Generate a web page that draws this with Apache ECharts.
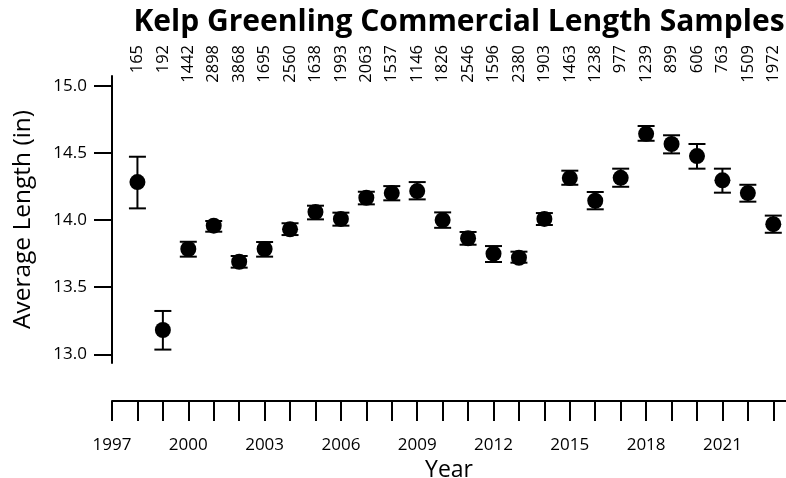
<!DOCTYPE html>
<html>
<head>
<meta charset="utf-8">
<script src="https://cdn.jsdelivr.net/npm/echarts@6/dist/echarts.min.js"></script>
<style>html,body{margin:0;padding:0;background:#fff}#c{width:786px;height:478px}</style>
</head>
<body>
<div id="c"></div>
<script>
const years = [1998,1999,2000,2001,2002,2003,2004,2005,2006,2007,2008,2009,2010,2011,2012,2013,2014,2015,2016,2017,2018,2019,2020,2021,2022,2023];
const sampleSizes = [165,192,1442,2898,3868,1695,2560,1638,1993,2063,1537,1146,1826,2546,1596,2380,1903,1463,1238,977,1239,899,606,763,1509,1972];
const meanLength = [14.284,13.181,13.785,13.959,13.690,13.785,13.932,14.061,14.009,14.167,14.202,14.217,14.001,13.865,13.750,13.720,14.009,14.314,14.145,14.316,14.644,14.568,14.478,14.297,14.202,13.970];
const lowerCI = [14.088,13.035,13.728,13.914,13.646,13.728,13.889,14.006,13.959,14.118,14.148,14.155,13.943,13.817,13.688,13.683,13.964,14.264,14.081,14.249,14.592,14.498,14.384,14.205,14.138,13.906];
const upperCI = [14.473,13.323,13.839,13.994,13.733,13.837,13.977,14.108,14.056,14.212,14.254,14.284,14.058,13.912,13.807,13.765,14.053,14.369,14.210,14.384,14.702,14.633,14.568,14.384,14.264,14.034];
const yTicks = [13.0,13.5,14.0,14.5,15.0];

const FONT = 'Open Sans';
const chart = echarts.init(document.getElementById('c'), null, {renderer:'canvas'});
const sizeByYear = {};
years.forEach((y,i)=>{ sizeByYear[y] = sampleSizes[i]; });

chart.setOption({
  animation:false,
  backgroundColor:'#fff',
  textStyle:{fontFamily:FONT},
  title:{
    text:'Kelp Greenling Commercial Length Samples',
    left:454, top:2, textAlign:'center',
    textStyle:{fontFamily:FONT, fontWeight:'bold', fontSize:30, color:'#000'}
  },
  grid:{left:112, right:0, top:76, height:287, containLabel:false, outerBoundsMode:'none'},
  xAxis:[{
    type:'value', position:'bottom', offset:38,
    min:1997, max:2023.5, interval:1,
    name:'Year', nameLocation:'middle', nameGap:45,
    nameTextStyle:{fontFamily:FONT, fontSize:23, color:'#000', verticalAlign:'top'},
    axisLine:{show:true, onZero:false, lineStyle:{color:'#000', width:2}},
    axisTick:{show:true, length:20, inside:false, lineStyle:{color:'#000', width:2}},
    axisLabel:{margin:36, fontFamily:FONT, fontSize:17, color:'#000',
      showMaxLabel:false,
      formatter:v => (Number.isInteger(v) && (v-1997)%3===0) ? String(v) : ''},
    splitLine:{show:false}
  },{
    type:'value', position:'top', offset:31,
    min:1997, max:2023.5, interval:1,
    axisLine:{show:false}, axisTick:{show:false}, splitLine:{show:false},
    axisLabel:{margin:0, rotate:-90, align:'right', verticalAlign:'middle',
      fontFamily:FONT, fontSize:16.5, color:'#000', showMaxLabel:false, showMinLabel:true,
      formatter:v => (sizeByYear[v] !== undefined ? String(sizeByYear[v]) : '')}
  }],
  yAxis:{
    type:'value', min:12.935, max:15.075,
    name:'Average Length (in)', nameLocation:'middle', nameGap:76, nameRotate:90,
    nameTextStyle:{fontFamily:FONT, fontSize:24.5, color:'#000'},
    axisLine:{show:true, onZero:false, lineStyle:{color:'#000', width:2}},
    axisTick:{show:true, length:18, customValues:yTicks, lineStyle:{color:'#000', width:2}},
    axisLabel:{margin:25, fontFamily:FONT, fontSize:17, color:'#000', customValues:yTicks,
      formatter:v => v.toFixed(1)},
    splitLine:{show:false}
  },
  series:[{
    type:'custom',
    xAxisIndex:0,
    data: years.map((y,i)=>[y, lowerCI[i], upperCI[i]]),
    renderItem:(params, api)=>{
      const x = api.value(0);
      const lo = api.coord([x, api.value(1)]);
      const hi = api.coord([x, api.value(2)]);
      const w = 8.5;
      const st = {stroke:'#000', lineWidth:2, fill:null};
      return {type:'group', children:[
        {type:'line', shape:{x1:lo[0], y1:lo[1], x2:hi[0], y2:hi[1]}, style:st},
        {type:'line', shape:{x1:lo[0]-w, y1:lo[1], x2:lo[0]+w, y2:lo[1]}, style:st},
        {type:'line', shape:{x1:hi[0]-w, y1:hi[1], x2:hi[0]+w, y2:hi[1]}, style:st}
      ]};
    },
    z:2
  },{
    type:'scatter',
    xAxisIndex:0,
    data: years.map((y,i)=>[y, meanLength[i]]),
    symbol:'circle', symbolSize:16,
    itemStyle:{color:'#000', opacity:1},
    z:3
  }]
});
</script>
</body>
</html>
